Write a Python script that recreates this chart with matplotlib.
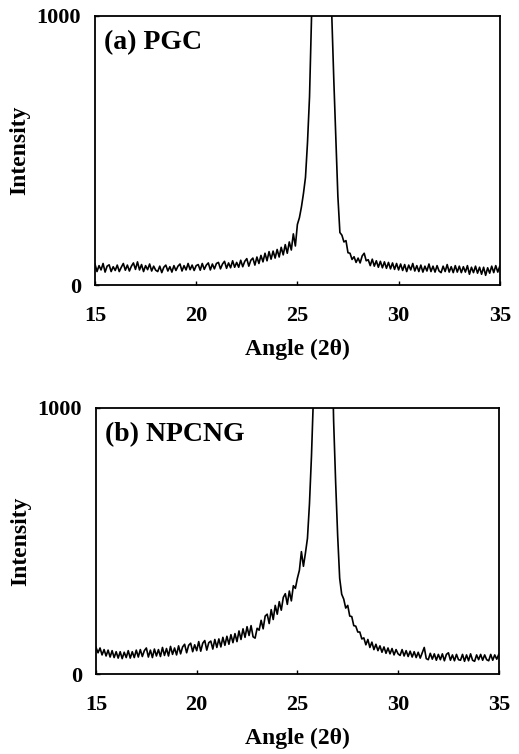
import numpy as np
import matplotlib
matplotlib.use("Agg")
import matplotlib.pyplot as plt

plt.rcParams["font.family"] = ["Liberation Serif", "DejaVu Serif"]
plt.rcParams["font.weight"] = "bold"

# 2-theta from 15 to 35 in 0.1 steps
angle = np.round(np.arange(150, 351) / 10.0, 1)

# (a) PGC intensity
pgc = [
    78, 50, 72, 56, 80, 48, 70, 75, 50, 68, 54,
    74, 50, 66, 80, 55, 74, 52, 70, 82, 58,
    86, 56, 76, 50, 72, 57, 78, 52, 70, 55,
    50, 70, 46, 66, 74, 52, 68, 48, 72, 54,
    70, 78, 52, 72, 56, 80, 57, 74, 54, 72,
    76, 55, 80, 58, 74, 82, 56, 78, 60, 80,
    84, 60, 78, 88, 62, 82, 64, 90, 66, 84,
    66, 92, 68, 88, 98, 70, 92, 100, 74, 104,
    80, 110, 86, 118, 90, 124, 96, 126, 100, 132,
    104, 140, 112, 150, 118, 160, 130, 190, 145, 225,
    250, 290, 340, 400, 530, 700, 1000, 1600, 2400, 3000,
    3200, 3300, 3200, 3000, 2200, 1400, 1000, 760, 550, 330,
    195, 185, 160, 165, 120, 118, 95, 105, 84, 100,
    82, 108, 118, 90, 94, 72, 96, 70, 90, 66,
    88, 64, 86, 62, 84, 60, 82, 58, 80, 56,
    78, 54, 76, 50, 74, 56, 80, 52, 72, 50,
    74, 48, 70, 52, 78, 50, 70, 48, 72, 52,
    46, 70, 50, 76, 48, 68, 46, 72, 48, 70,
    46, 68, 48, 72, 40, 66, 46, 70, 44, 66,
    40, 66, 36, 64, 44, 70, 46, 72, 48, 70,
]

# (b) NPCNG intensity
npcng = [
    100, 80, 98, 72, 92, 68, 90, 64, 88, 62, 84,
    60, 84, 58, 82, 62, 88, 60, 84, 62, 90,
    64, 92, 66, 88, 98, 64, 90, 62, 94, 68,
    92, 66, 100, 70, 96, 68, 104, 74, 98, 72,
    106, 76, 102, 112, 80, 108, 116, 84, 110, 88,
    122, 86, 116, 126, 90, 118, 124, 94, 130, 100,
    132, 102, 138, 108, 142, 112, 148, 118, 152, 122,
    162, 130, 170, 138, 178, 145, 182, 140, 135, 172,
    165, 202, 170, 218, 225, 190, 242, 205, 258, 225,
    272, 240, 288, 302, 262, 312, 275, 332, 322, 360,
    390, 460, 405, 455, 510, 640, 820, 1050, 1800, 2600,
    3200, 3500, 3500, 3300, 2800, 2000, 1300, 950, 720, 520,
    360, 300, 282, 248, 258, 218, 216, 182, 180, 158,
    158, 132, 136, 110, 130, 100, 120, 92, 112, 88,
    106, 82, 102, 78, 98, 76, 96, 72, 92, 76,
    70, 92, 68, 88, 66, 86, 64, 84, 62, 82,
    60, 80, 100, 58, 54, 78, 56, 76, 52, 74,
    54, 76, 50, 74, 80, 52, 72, 50, 74, 54,
    52, 74, 48, 72, 50, 76, 52, 48, 72, 54,
    74, 52, 72, 54, 50, 74, 52, 72, 56, 74,
]

panels = [
    ("(a) PGC", pgc, [0.183, 0.622, 0.780, 0.357]),
    ("(b) NPCNG", npcng, [0.185, 0.106, 0.776, 0.353]),
]

fig = plt.figure(figsize=(5.19, 7.54), dpi=100)

for title, values, rect in panels:
    ax = fig.add_axes(rect)
    ax.plot(angle, values, color="black", lw=1.2)
    ax.set_xlim(15, 35)
    ax.set_ylim(0, 1000)
    ax.set_xticks([15, 20, 25, 30, 35])
    ax.set_yticks([0, 1000])
    ax.tick_params(direction="in", length=3, width=1, labelsize=16)
    ax.tick_params(axis="x", pad=15)
    ax.tick_params(axis="y", pad=10)
    for s in ax.spines.values():
        s.set_linewidth(1.3)
    ax.set_xlabel("Angle (2θ)", fontsize=17, fontweight="bold", labelpad=9)
    ax.set_ylabel("Intensity", fontsize=17, fontweight="bold")
    ax.yaxis.set_label_coords(-0.16, 0.5)
    ax.text(0.022, 0.90, title, transform=ax.transAxes, fontsize=20,
            fontweight="bold", va="center", ha="left")

fig.savefig("out.png", dpi=100)
